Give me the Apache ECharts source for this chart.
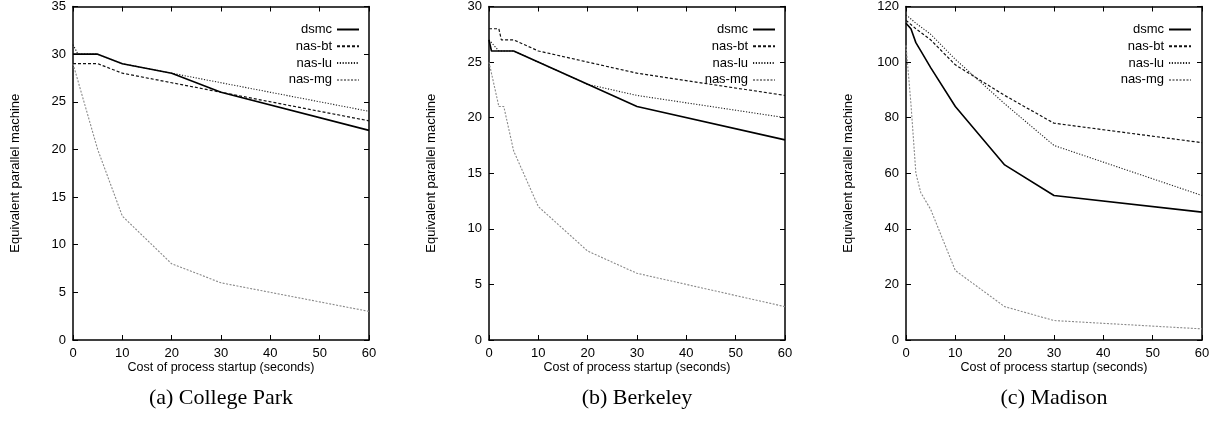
<!DOCTYPE html>
<html><head><meta charset="utf-8">
<script src="https://cdn.jsdelivr.net/npm/echarts@6/dist/echarts.min.js"></script>
<style>html,body{margin:0;padding:0;background:#fff}#c{width:1214px;height:425px}</style>
</head><body><div id="c"></div>
<script>
const seriesNames = ['dsmc', 'nas-bt', 'nas-lu', 'nas-mg'];
const panelCaptions = ['(a) College Park', '(b) Berkeley', '(c) Madison'];
const xTitle = 'Cost of process startup (seconds)';
const yTitle = 'Equivalent parallel machine';
const yMax = [35, 30, 120];
const yStep = [5, 5, 20];
// College Park
const cpDsmc = [[0,30],[5,30],[10,29],[20,28],[30,26],[60,22]];
const cpBt   = [[0,29],[5,29],[10,28],[20,27],[30,26],[60,23]];
const cpLu   = [[0,31],[1,30],[5,30],[10,29],[20,28],[30,27],[60,24]];
const cpMg   = [[0,29],[5,20],[10,13],[20,8],[30,6],[60,3]];
// Berkeley
const bkDsmc = [[0,27],[0.5,26],[5,26],[20,23],[30,21],[60,18]];
const bkBt   = [[0,28],[2,28],[2.5,27],[5,27],[10,26],[30,24],[60,22]];
const bkLu   = [[0,27],[2,26],[5,26],[20,23],[30,22],[60,20]];
const bkMg   = [[0,25],[2,21],[3,21],[5,17],[10,12],[20,8],[30,6],[60,3]];
// Madison
const mdDsmc = [[0,114],[1,112],[2,107],[3,104],[5,98],[10,84],[20,63],[30,52],[60,46]];
const mdBt   = [[0,115],[2,112],[5,108],[10,99],[20,88],[30,78],[60,71]];
const mdLu   = [[0,117],[2,114],[5,110],[10,101],[20,85],[30,70],[60,52]];
const mdMg   = [[0,106],[1,85],[2,60],[3,53],[5,47],[10,25],[20,12],[30,7],[60,4]];

const panelData = [[cpDsmc, cpBt, cpLu, cpMg], [bkDsmc, bkBt, bkLu, bkMg], [mdDsmc, mdBt, mdLu, mdMg]];

const narrow = "'Liberation Sans Narrow', 'Arial Narrow', 'Liberation Sans', sans-serif";
const gridLeft = [73, 489, 906];
const gridW = 296, gridTop = 5, gridH = 335;
const legendRight = [854, 438, 22];

const lineStyles = [
  {color: '#000', width: 1.6, type: 'solid'},
  {color: '#111', width: 1.2, type: [3, 2]},
  {color: '#222', width: 1.1, type: [1.2, 1.6]},
  {color: '#8a8a8a', width: 1.1, type: [2, 1.5]}
];
const frame = {color: '#000', width: 1.5};

const grid = [], xAxis = [], yAxis = [], series = [], legend = [], graphic = [];
for (let p = 0; p < 3; p++) {
  grid.push({left: gridLeft[p], top: gridTop, width: gridW, height: gridH, containLabel: false});
  xAxis.push({
    gridIndex: p, type: 'value', min: 0, max: 60, interval: 10, position: 'bottom',
    axisLine: {show: true, onZero: false, lineStyle: frame},
    axisTick: {show: true, inside: true, length: 5, lineStyle: {color: '#000', width: 1}},
    axisLabel: {margin: 7, color: '#000', fontSize: 13, fontFamily: narrow},
    splitLine: {show: false},
    name: xTitle, nameLocation: 'middle', nameGap: 21, nameMoveOverlap: false,
    nameTextStyle: {color: '#000', fontSize: 12.5, fontFamily: narrow}
  });
  xAxis.push({
    gridIndex: p, type: 'value', min: 0, max: 60, interval: 10, position: 'top',
    axisLine: {show: true, onZero: false, lineStyle: frame},
    axisTick: {show: true, inside: true, length: 5, lineStyle: {color: '#000', width: 1}},
    axisLabel: {show: false}, splitLine: {show: false}
  });
  yAxis.push({
    gridIndex: p, type: 'value', min: 0, max: yMax[p], interval: yStep[p], position: 'left',
    axisLine: {show: true, onZero: false, lineStyle: frame},
    axisTick: {show: true, inside: true, length: 5, lineStyle: {color: '#000', width: 1}},
    axisLabel: {margin: 7, color: '#000', fontSize: 13, fontFamily: narrow},
    splitLine: {show: false},
    name: yTitle, nameLocation: 'middle', nameGap: 51, nameRotate: 90, nameMoveOverlap: false,
    nameTextStyle: {color: '#000', fontSize: 13, fontFamily: "'Liberation Sans', sans-serif"}
  });
  yAxis.push({
    gridIndex: p, type: 'value', min: 0, max: yMax[p], interval: yStep[p], position: 'right',
    axisLine: {show: true, onZero: false, lineStyle: frame},
    axisTick: {show: true, inside: true, length: 5, lineStyle: {color: '#000', width: 1}},
    axisLabel: {show: false}, splitLine: {show: false}
  });
  for (let s = 0; s < 4; s++) {
    series.push({
      name: seriesNames[s], type: 'line', xAxisIndex: 2 * p, yAxisIndex: 2 * p,
      data: panelData[p][s], symbol: 'none', animation: false,
      lineStyle: lineStyles[s], itemStyle: {color: lineStyles[s].color},
      z: 4 - s
    });
  }
  legend.push({
    data: seriesNames, orient: 'vertical', align: 'right', right: legendRight[p], top: 21.5,
    padding: 0, itemWidth: 22, itemHeight: 16, itemGap: 0.8, selectedMode: false,
    itemStyle: {opacity: 0},
    textStyle: {color: '#000', fontSize: 13, lineHeight: 16, fontFamily: narrow}
  });
  graphic.push({
    type: 'text', x: gridLeft[p] + gridW / 2, y: 398,
    style: {text: panelCaptions[p], font: "22px 'Liberation Serif', serif", fill: '#000', align: 'center', verticalAlign: 'middle'}
  });
}

const chart = echarts.init(document.getElementById('c'), null, {renderer: 'canvas'});
chart.setOption({animation: false, backgroundColor: '#fff', grid, xAxis, yAxis, series, legend, graphic});
</script>
</body></html>
